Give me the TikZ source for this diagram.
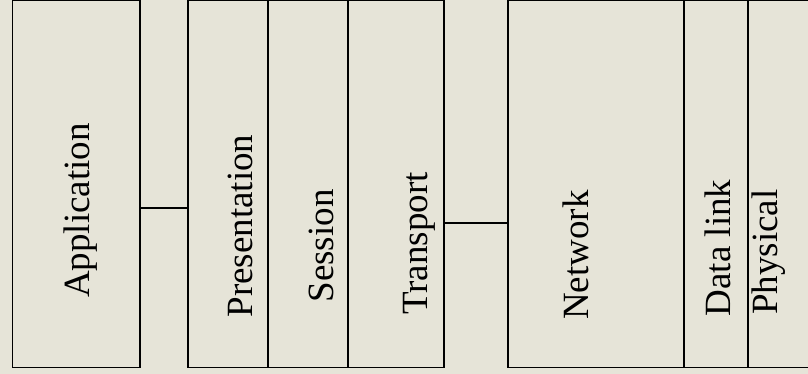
\documentclass[tikz,border=0pt]{standalone}
\usepackage{fontspec}
\setmainfont{Liberation Serif}
\definecolor{paper}{RGB}{230,228,216}
\begin{document}
\begin{tikzpicture}[x=1pt,y=-1pt,
  layer/.style={draw=black, line width=1.5pt, fill=paper, rectangle, inner sep=0pt,
    minimum height=367pt},
  label/.style={rotate=90, anchor=base, inner sep=0pt,
    font=\fontsize{37}{40}\selectfont},
  link/.style={draw=black, line width=1.5pt}]
  % background and page size
  \fill[paper] (0,0) rectangle (808,374);
  \useasboundingbox (0,0) rectangle (808,374);

  % layer boxes
  \node[layer, minimum width=127.5pt] (app)   at (76.25,184.2) {};
  \node[layer, minimum width=80pt]    (pres)  at (228,184.2) {};
  \node[layer, minimum width=80pt]    (sess)  at (308,184.2) {};
  \node[layer, minimum width=96pt]    (trans) at (396,184.2) {};
  \node[layer, minimum width=176pt]   (net)   at (596,184.2) {};
  \node[layer, minimum width=64pt]    (dl)    at (716,184.2) {};
  \node[layer, minimum width=64pt]    (phys)  at (780,184.2) {};

  % layer names
  \node[label] (appt)   at (89.5,210.5) {Application};
  \node[label] (prest)  at (252,226)    {Presentation};
  \node[label] (sesst)  at (333,246)    {Session};
  \node[label] (transt) at (427,243.5)  {Transport};
  \node[label] (nett)   at (588,255)    {Network};
  \node[label] (dlt)    at (730,248)    {Data link};
  \node[label] (physt)  at (777,252)    {Physical};

  % connectors between groups
  \draw[link] ([yshift=-24pt]app.east) -- ([yshift=-24pt]pres.west);
  \draw[link] ([yshift=-39pt]trans.east) -- ([yshift=-39pt]net.west);
\end{tikzpicture}
\end{document}
